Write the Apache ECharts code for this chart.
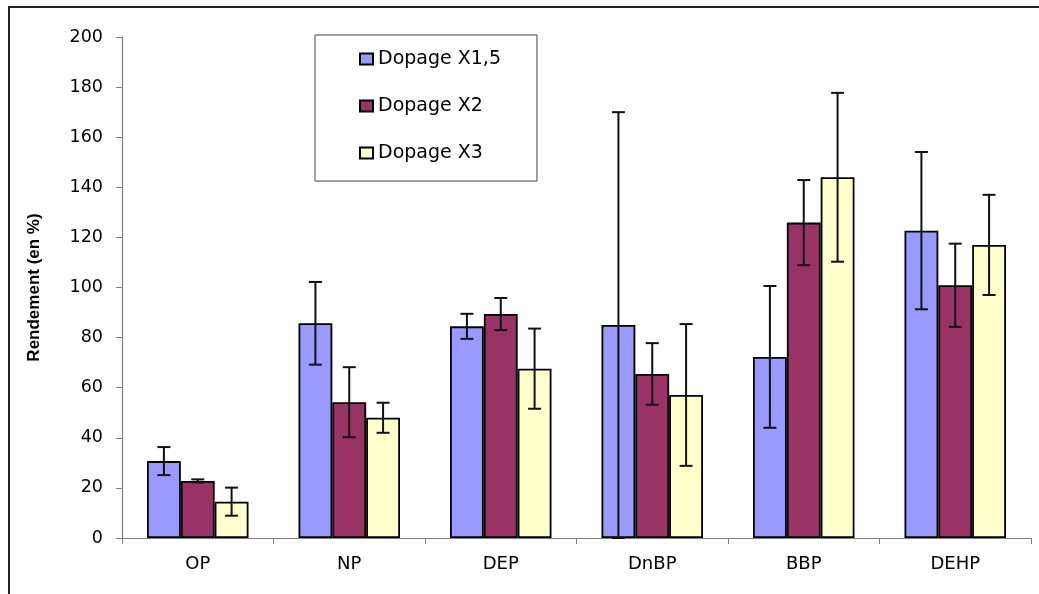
<!DOCTYPE html>
<html>
<head>
<meta charset="utf-8">
<title>Rendement</title>
<script src="https://cdn.jsdelivr.net/npm/echarts@6/dist/echarts.min.js"></script>
<style>
  html, body { margin: 0; padding: 0; background: #fff; }
  #chart { width: 1039px; height: 594px; }
</style>
</head>
<body>
<div id="chart"></div>
<script>
// categories and tick values
var categories = ['OP', 'NP', 'DEP', 'DnBP', 'BBP', 'DEHP'];
var seriesNames = ['Dopage X1,5', 'Dopage X2', 'Dopage X3'];
var yTicks = { min: 0, max: 200, interval: 20 };

// bar values (rendement en %)
var valX15 = [30.7, 85.7, 84.5, 85.0, 72.3, 122.7];
var valX2 = [22.8, 54.2, 89.4, 65.5, 125.9, 100.9];
var valX3 = [14.5, 48.0, 67.6, 57.1, 144.0, 117.0];

// error bar half-widths
var errX15 = [5.6, 16.5, 5.0, 85.0, 28.3, 31.4];
var errX2 = [0.6, 14.0, 6.4, 12.3, 17.0, 16.6];
var errX3 = [5.6, 6.0, 16.0, 28.3, 33.7, 20.0];

var colors = ['#9999ff', '#993366', '#ffffcc'];
var values = [valX15, valX2, valX3];
var errors = [errX15, errX2, errX3];
var catGap = 0.33;

var chart = echarts.init(document.getElementById('chart'));

function errorRenderer(idx) {
  return function (params, api) {
    var cat = api.value(0);
    var val = api.value(1);
    var err = api.value(2);
    var bandW = api.size([1, 0])[0];
    var bw = bandW * (1 - catGap) / 3;
    var x = api.coord([cat, val])[0] + (idx - 1) * bw;
    var yTop = api.coord([cat, val + err])[1];
    var yBot = api.coord([cat, val - err])[1];
    var cap = 6.5;
    var style = { stroke: '#111', lineWidth: 2 };
    return {
      type: 'group',
      children: [
        { type: 'line', shape: { x1: x, y1: yTop, x2: x, y2: yBot }, style: style },
        { type: 'line', shape: { x1: x - cap, y1: yTop, x2: x + cap, y2: yTop }, style: style },
        { type: 'line', shape: { x1: x - cap, y1: yBot, x2: x + cap, y2: yBot }, style: style }
      ]
    };
  };
}

var series = [];
for (var s = 0; s < 3; s++) {
  series.push({
    name: seriesNames[s],
    type: 'bar',
    data: values[s],
    barGap: '0%',
    barCategoryGap: (catGap * 100) + '%',
    itemStyle: { color: colors[s], borderColor: '#000', borderWidth: 1.8 }
  });
}
for (var s2 = 0; s2 < 3; s2++) {
  var d = [];
  for (var i = 0; i < categories.length; i++) {
    d.push([i, values[s2][i], errors[s2][i]]);
  }
  series.push({
    type: 'custom',
    renderItem: errorRenderer(s2),
    data: d,
    encode: { x: 0, y: 1 },
    z: 10,
    silent: true
  });
}

var option = {
  animation: false,
  backgroundColor: '#fff',
  grid: { left: 122, top: 37, right: 8, bottom: 56 },
  legend: {
    data: seriesNames,
    orient: 'vertical',
    left: 315,
    top: 35,
    padding: [14, 36, 18, 44],
    itemGap: 27,
    itemWidth: 13,
    itemHeight: 11,
    icon: 'rect',
    borderColor: '#444',
    borderWidth: 1,
    textStyle: { color: '#000', fontSize: 19, fontFamily: 'DejaVu Sans', lineHeight: 20 }
  },
  xAxis: {
    type: 'category',
    data: categories,
    axisLine: { lineStyle: { color: '#808080', width: 1.2 } },
    axisTick: { show: true, length: 6, lineStyle: { color: '#808080' } },
    axisLabel: { color: '#000', fontSize: 18, fontFamily: 'DejaVu Sans', margin: 17 }
  },
  yAxis: {
    type: 'value',
    min: yTicks.min,
    max: yTicks.max,
    interval: yTicks.interval,
    name: 'Rendement (en %)',
    nameLocation: 'middle',
    nameRotate: 90,
    nameGap: 79,
    nameTextStyle: { color: '#000', fontSize: 17, fontWeight: 'bold', fontFamily: 'Liberation Sans' },
    splitLine: { show: false },
    axisLine: { show: true, lineStyle: { color: '#808080', width: 1.2 } },
    axisTick: { show: true, length: 6, lineStyle: { color: '#808080' } },
    axisLabel: { color: '#000', fontSize: 17.5, fontFamily: 'DejaVu Sans', margin: 19 }
  },
  graphic: [{
    type: 'rect',
    shape: { x: 9, y: 7, width: 1100, height: 700 },
    style: { fill: 'none', stroke: '#222', lineWidth: 2 },
    silent: true
  }],
  series: series
};

chart.setOption(option);
</script>
</body>
</html>
